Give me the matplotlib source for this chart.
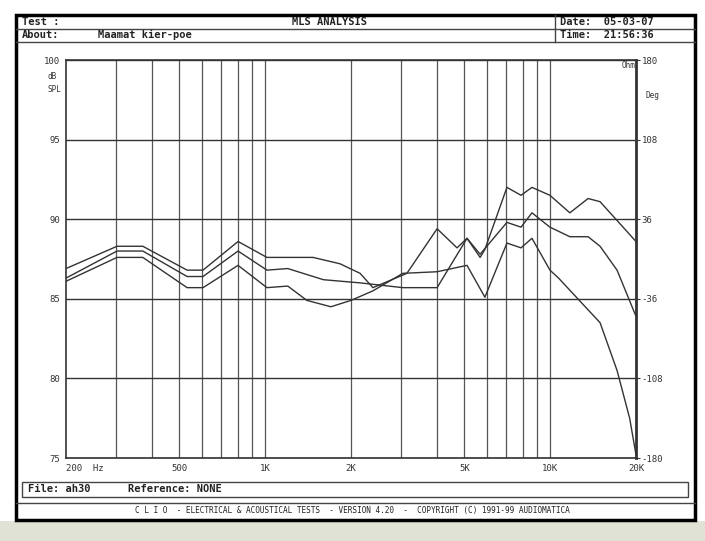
import matplotlib
matplotlib.use("Agg")
import matplotlib.pyplot as plt
from matplotlib.patches import Rectangle

freq_a = [200, 302, 372, 532, 605, 803, 1014, 1472, 1830, 2152, 2388, 3142, 4010, 4710, 5106, 5676, 5900, 7050, 7900, 8630, 9980, 11720, 13580, 14960, 20000]
db_a = [86.9, 88.3, 88.3, 86.8, 86.8, 88.6, 87.6, 87.6, 87.2, 86.6, 85.7, 86.6, 89.4, 88.2, 88.8, 87.6, 88.1, 92.0, 91.5, 92.0, 91.5, 90.4, 91.3, 91.1, 88.6]
freq_b = [200, 302, 372, 532, 605, 803, 1014, 1200, 1600, 2152, 3041, 4010, 5106, 5676, 7050, 7900, 8630, 9980, 11720, 13580, 14960, 17160, 20000]
db_b = [86.3, 88.0, 88.0, 86.4, 86.4, 88.0, 86.8, 86.9, 86.2, 86.0, 85.7, 85.7, 88.8, 87.8, 89.8, 89.5, 90.4, 89.5, 88.9, 88.9, 88.3, 86.8, 83.9]
freq_c = [200, 302, 372, 532, 605, 803, 1014, 1200, 1400, 1700, 2000, 2388, 3041, 4010, 5106, 5900, 7050, 7900, 8630, 9980, 10700, 14960, 17160, 19000, 20000]
db_c = [86.1, 87.6, 87.6, 85.7, 85.7, 87.1, 85.7, 85.8, 84.9, 84.5, 84.9, 85.5, 86.6, 86.7, 87.1, 85.1, 88.5, 88.2, 88.8, 86.8, 86.3, 83.5, 80.5, 77.5, 75.2]

y_ticks = [75, 80, 85, 90, 95, 100]
y_labels = ["75", "80", "85", "90", "95", "100"]
deg_labels = ["-180", "-108", "-36", "36", "108", "180"]
x_ticks = [200, 500, 1000, 2000, 5000, 10000, 20000]
x_labels = ["200  Hz", "500", "1K", "2K", "5K", "10K", "20K"]
v_grid = list(range(300, 1000, 100)) + list(range(1000, 10001, 1000))

W, H = 705, 541
fig = plt.figure(figsize=(W/100, H/100), dpi=100)
fig.patch.set_facecolor("white")
mono = "DejaVu Sans Mono"

ov = fig.add_axes([0, 0, 1, 1], zorder=0)
ov.set_xlim(0, W); ov.set_ylim(H, 0); ov.axis("off")
ov.add_patch(Rectangle((0, 521), W, 20, color="#dfe2d4", lw=0))
ov.add_patch(Rectangle((16, 15), 679, 505, fill=False, ec="black", lw=2.5))
ov.plot([16, 695], [28.5, 28.5], color="#444", lw=1)
ov.plot([16, 695], [42, 42], color="#444", lw=1)
ov.plot([555, 555], [15, 42], color="#444", lw=1)
ov.add_patch(Rectangle((22, 482), 666, 15, fill=False, ec="#444", lw=1))
ov.plot([16, 695], [503, 503], color="#444", lw=1)
kw = dict(family=mono, fontsize=7.5, fontweight="bold", color="#222", va="center")
ov.text(22, 22, "Test :", **kw)
ov.text(330, 22, "MLS ANALYSIS", ha="center", **kw)
ov.text(22, 35, "About:", **kw)
ov.text(98, 35, "Maamat kier-poe", **kw)
ov.text(560, 22, "Date:  05-03-07", **kw)
ov.text(560, 35, "Time:  21:56:36", **kw)
ov.text(28, 489.5, "File: ah30      Reference: NONE", **kw)
ov.text(352, 511, "C L I O  - ELECTRICAL & ACOUSTICAL TESTS  - VERSION 4.20  -  COPYRIGHT (C) 1991-99 AUDIOMATICA",
        ha="center", family=mono, fontsize=5.6, color="#222", va="center")

ax = fig.add_axes([66/W, 1-458/H, 570/W, 398/H], zorder=1)
ax.set_facecolor("none")
ax.set_xscale("log")
ax.set_xlim(200, 20000); ax.set_ylim(75, 100)
for f in v_grid:
    ax.axvline(f, color="#555", lw=0.9)
for y in y_ticks:
    ax.axhline(y, color="#333", lw=1.0)
for fr, db in [(freq_a, db_a), (freq_b, db_b), (freq_c, db_c)]:
    ax.plot(fr, db, color="#333", lw=1.0)
for s in ax.spines.values():
    s.set_color("#333"); s.set_linewidth(1.2)
ax.spines["right"].set_linewidth(2)
ax.set_xticks(x_ticks); ax.set_xticklabels(x_labels, family=mono, fontsize=6.5, color="#333")
ax.xaxis.set_minor_locator(matplotlib.ticker.NullLocator())
ax.set_yticks(y_ticks); ax.set_yticklabels(y_labels, family=mono, fontsize=6.5, color="#333")
ax.tick_params(length=0, pad=4)
ax.get_xticklabels()[0].set_ha("left")
ax.get_xticklabels()[0].set_x(190)
r = ax.twinx()
r.set_ylim(-180, 180); r.set_yticks([-180, -108, -36, 36, 108, 180])
r.set_yticklabels(deg_labels, family=mono, fontsize=6.5, color="#333")
r.tick_params(length=3, color="#333", pad=1)
for s in r.spines.values():
    s.set_visible(False)
ov.text(48, 83, "dB\nSPL", family=mono, fontsize=5.5, color="#333", va="center", linespacing=1.6)
ov.text(645, 96, "Deg", family=mono, fontsize=5.5, color="#333", va="center")
ov.text(622, 66, "Ohm", family=mono, fontsize=5.5, color="#333", va="center")

fig.savefig("out.png", dpi=100)
